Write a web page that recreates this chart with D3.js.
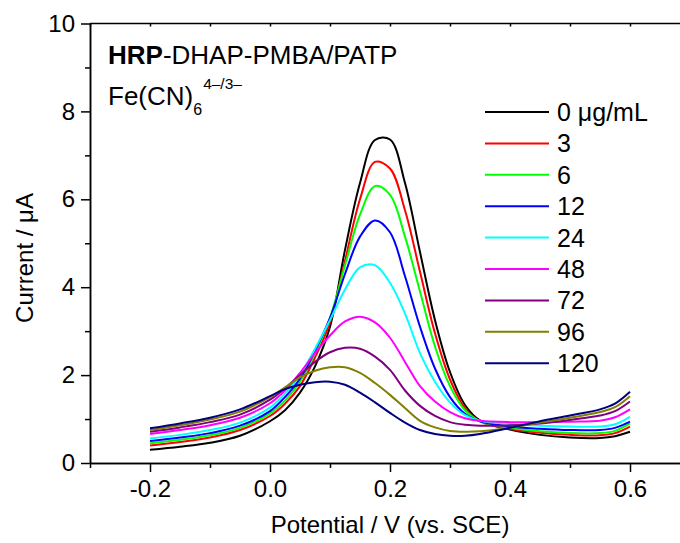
<!DOCTYPE html>
<html>
<head>
<meta charset="UTF-8">
<style>
  body { margin: 0; background: #fff; }
  svg { display: block; }
  text { font-family: "Liberation Sans", Arial, sans-serif; fill: #000; }
  .axis path, .axis line { stroke: #000; stroke-width: 1.5px; }
  .axis text { font-size: 24px; }
  .curve { fill: none; stroke-width: 2px; }
</style>
</head>
<body>
<svg id="chart"></svg>
<script src="https://d3js.org/d3.v7.min.js"></script>
<script>

// potential grid (V vs. SCE)
const potential = [-0.2, -0.15, -0.1, -0.05, 0, 0.025, 0.05, 0.075, 0.1, 0.125, 0.15, 0.175, 0.2,
  0.225, 0.25, 0.275, 0.3, 0.325, 0.35, 0.4, 0.45, 0.5, 0.55, 0.575, 0.6];

// current (uA) for each HRP concentration
const i0   = [0.30, 0.37, 0.46, 0.62, 0.95, 1.20, 1.60, 2.20, 3.10, 4.85, 6.37, 7.35, 7.36, 6.37, 4.80, 3.25, 2.07, 1.32, 0.97, 0.76, 0.64, 0.58, 0.57, 0.61, 0.71];
const i3   = [0.40, 0.48, 0.58, 0.75, 1.07, 1.35, 1.75, 2.40, 3.20, 4.60, 6.00, 6.85, 6.70, 5.75, 4.35, 2.95, 1.90, 1.25, 0.95, 0.78, 0.69, 0.64, 0.63, 0.68, 0.83];
const i6   = [0.45, 0.53, 0.63, 0.80, 1.13, 1.42, 1.85, 2.50, 3.30, 4.50, 5.65, 6.30, 6.10, 5.15, 3.90, 2.65, 1.75, 1.20, 0.95, 0.80, 0.72, 0.68, 0.68, 0.73, 0.90];
const i12  = [0.50, 0.58, 0.68, 0.85, 1.18, 1.50, 1.92, 2.55, 3.30, 4.30, 5.15, 5.52, 5.25, 4.25, 3.10, 2.15, 1.50, 1.12, 0.95, 0.83, 0.78, 0.75, 0.75, 0.80, 0.94];
const i24  = [0.56, 0.64, 0.75, 0.92, 1.26, 1.58, 2.00, 2.60, 3.25, 3.95, 4.45, 4.50, 4.10, 3.40, 2.50, 1.85, 1.38, 1.09, 0.96, 0.89, 0.85, 0.83, 0.83, 0.88, 1.05];
const i48  = [0.66, 0.75, 0.86, 1.03, 1.36, 1.65, 2.05, 2.50, 2.90, 3.22, 3.33, 3.20, 2.85, 2.30, 1.75, 1.40, 1.16, 1.02, 0.96, 0.93, 0.93, 0.94, 0.96, 1.04, 1.22];
const i72  = [0.71, 0.81, 0.93, 1.10, 1.44, 1.70, 2.00, 2.30, 2.52, 2.62, 2.60, 2.42, 2.12, 1.65, 1.30, 1.07, 0.93, 0.87, 0.85, 0.86, 0.90, 0.98, 1.08, 1.18, 1.40];
const i96  = [0.75, 0.86, 0.99, 1.17, 1.50, 1.72, 1.95, 2.10, 2.18, 2.18, 2.05, 1.82, 1.55, 1.25, 0.96, 0.81, 0.73, 0.71, 0.72, 0.80, 0.92, 1.03, 1.16, 1.27, 1.52];
const i120 = [0.79, 0.90, 1.03, 1.22, 1.52, 1.68, 1.78, 1.84, 1.85, 1.78, 1.60, 1.38, 1.14, 0.92, 0.75, 0.66, 0.62, 0.62, 0.66, 0.80, 0.95, 1.08, 1.22, 1.35, 1.62];

const seriesValues = [i0, i3, i6, i12, i24, i48, i72, i96, i120];
const legendLabels = ["0 \u03bcg/mL", "3", "6", "12", "24", "48", "72", "96", "120"];
const colors = ["#000000", "#ff0000", "#00ff00", "#0000ff", "#00ffff", "#ff00ff", "#800080", "#808000", "#000080"];

const xMajor = [-0.2, 0, 0.2, 0.4, 0.6];
const xMinor = [-0.3, -0.1, 0.1, 0.3, 0.5];
const yMajor = [0, 2, 4, 6, 8, 10];
const yMinor = [1, 3, 5, 7, 9];

const width = 680, height = 543;
const plotLeft = 90, plotRight = 690, plotTop = 23.5, plotBottom = 463;

const svg = d3.select("#chart")
    .attr("width", width)
    .attr("height", height);

const x = d3.scaleLinear().domain([-0.3, 0.7]).range([plotLeft, plotRight]);
const y = d3.scaleLinear().domain([0, 10]).range([plotBottom, plotTop]);

// frame: top line
svg.append("line")
    .attr("x1", plotLeft).attr("x2", plotRight)
    .attr("y1", plotTop).attr("y2", plotTop)
    .attr("stroke", "#000").attr("stroke-width", 1.5);

// top ticks (tiny, inward)
svg.append("g")
    .attr("class", "axis")
    .attr("transform", `translate(0,${plotTop})`)
    .call(d3.axisTop(x).tickValues(xMajor.concat(xMinor)).tickSize(-3).tickSizeOuter(0).tickFormat(""))
    .call(g => g.select(".domain").remove());

// bottom axis
svg.append("g")
    .attr("class", "axis")
    .attr("transform", `translate(0,${plotBottom})`)
    .call(d3.axisBottom(x).tickValues(xMinor).tickSize(5).tickSizeOuter(0).tickFormat(""));

svg.append("g")
    .attr("class", "axis")
    .attr("transform", `translate(0,${plotBottom})`)
    .call(d3.axisBottom(x).tickValues(xMajor).tickSize(9).tickSizeOuter(0).tickPadding(8)
        .tickFormat(d => d.toFixed(1)));

// left axis
svg.append("g")
    .attr("class", "axis")
    .attr("transform", `translate(${plotLeft},0)`)
    .call(d3.axisLeft(y).tickValues(yMinor).tickSize(5).tickSizeOuter(0).tickFormat(""));

svg.append("g")
    .attr("class", "axis")
    .attr("transform", `translate(${plotLeft},0)`)
    .call(d3.axisLeft(y).tickValues(yMajor).tickSize(9).tickSizeOuter(0).tickPadding(6)
        .tickFormat(d3.format("d")));

// axis titles
svg.append("text")
    .attr("x", 390).attr("y", 533)
    .attr("text-anchor", "middle")
    .style("font-size", "24px")
    .text("Potential / V (vs. SCE)");

svg.append("text")
    .attr("transform", "translate(33,258) rotate(-90)")
    .attr("text-anchor", "middle")
    .style("font-size", "24px")
    .text("Current / \u03bcA");

// curves
const line = d3.line()
    .x((d, i) => x(potential[i]))
    .y(d => y(d))
    .curve(d3.curveCatmullRom.alpha(0.5));

svg.append("g")
    .selectAll("path")
    .data(seriesValues)
    .join("path")
    .attr("class", "curve")
    .attr("stroke", (d, i) => colors[i])
    .attr("d", line);

// annotation
const t1 = svg.append("text").attr("x", 108).attr("y", 63.5).style("font-size", "26px");
t1.append("tspan").style("font-weight", "bold").text("HRP");
t1.append("tspan").text("-DHAP-PMBA/PATP");

const t2 = svg.append("text").attr("x", 108).attr("y", 105).style("font-size", "26px");
t2.append("tspan").text("Fe(CN)");
t2.append("tspan").attr("dy", 10).style("font-size", "16px").text("6");
t2.append("tspan").attr("dx", 1).attr("dy", -26.5).style("font-size", "15.5px").text("4\u2013/3\u2013");

// legend
const legend = svg.append("g").attr("transform", "translate(485,112)");
const rows = legend.selectAll("g")
    .data(legendLabels)
    .join("g")
    .attr("transform", (d, i) => `translate(0,${i * 31.4})`);
rows.append("line")
    .attr("x1", 0).attr("x2", 64)
    .attr("stroke", (d, i) => colors[i])
    .attr("stroke-width", 2);
rows.append("text")
    .attr("x", 72).attr("dy", "0.36em")
    .style("font-size", "25px")
    .text(d => d);

</script>
</body>
</html>
